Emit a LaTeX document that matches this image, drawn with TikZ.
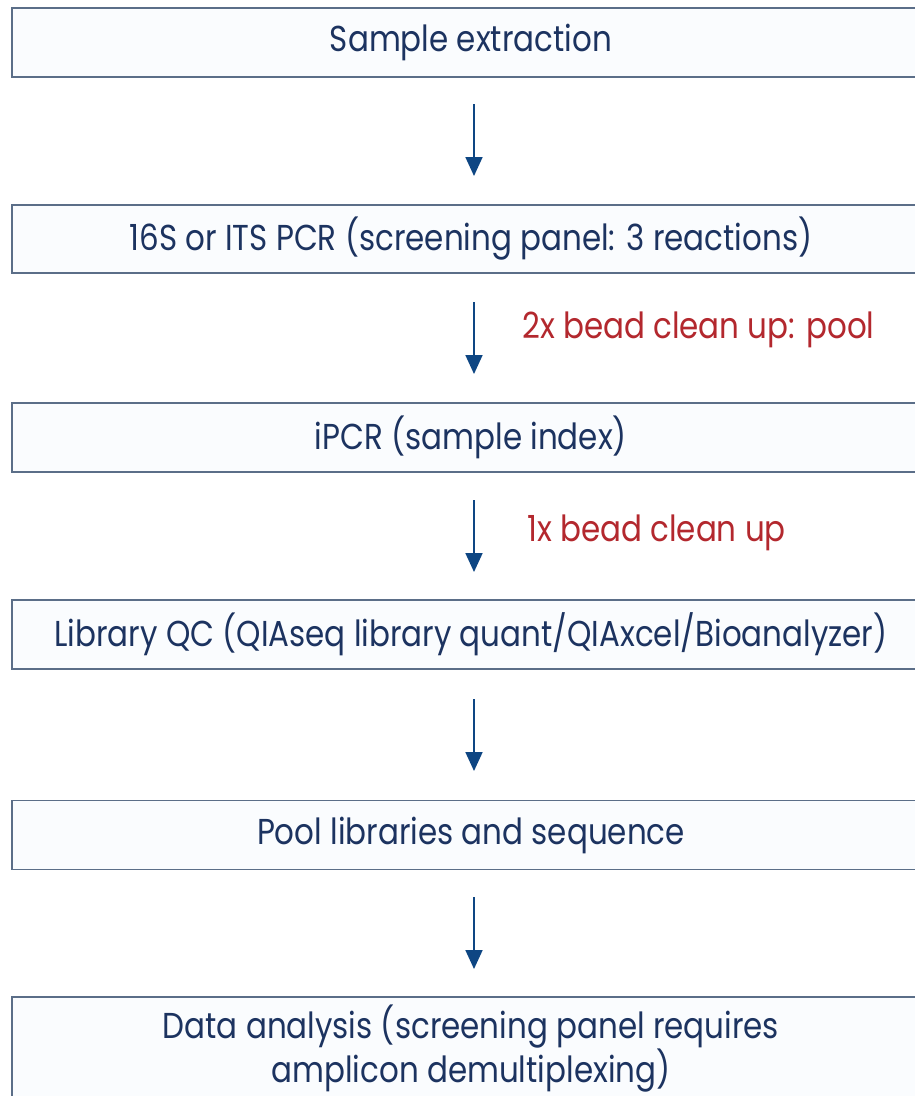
\documentclass[tikz,border=0pt]{standalone}
\usepackage{fontspec}
\setmainfont[FakeStretch=0.86]{Poppins}
\usetikzlibrary{arrows.meta}
\definecolor{boxline}{HTML}{5B6E88}
\definecolor{boxfill}{HTML}{FAFCFE}
\definecolor{txtblue}{HTML}{1C3360}
\definecolor{arrblue}{HTML}{0E4683}
\definecolor{lblred}{HTML}{B3282E}
\tikzset{
  stepbox/.style={draw=boxline, fill=boxfill, line width=1.6pt, rectangle,
    minimum width=918pt, text=txtblue, font=\fontsize{36}{37}\selectfont, inner sep=0pt, align=center},
  flow/.style={draw=arrblue, line width=1.8pt, -{Triangle[length=19pt,width=17pt]}},
  lbl/.style={text=lblred, font=\fontsize{36}{37}\selectfont, anchor=west, inner sep=0pt}
}
\begin{document}
\begin{tikzpicture}[x=1pt,y=-1pt]
\useasboundingbox (0,0) rectangle (915,1096);
\node[stepbox, minimum height=69pt] (b1) at (471,42.5) {Sample extraction};
\node[stepbox, minimum height=68pt] (b2) at (471,239) {16S or ITS PCR (screening panel: 3 reactions)};
\node[stepbox, minimum height=69pt] (b3) at (471,437.5) {iPCR (sample index)};
\node[stepbox, minimum height=69pt] (b4) at (471,634.5) {Library QC (QIAseq library quant/QIAxcel/Bioanalyzer)};
\node[stepbox, minimum height=69pt] (b5) at (471,835) {Pool libraries and sequence};
\node[stepbox, minimum height=103pt] (b6) at (471,1048.5) {Data analysis (screening panel requires\\ amplicon demultiplexing)};
\coordinate (a1s) at (474,104); \coordinate (a1e) at (474,176);
\coordinate (a2s) at (474,302); \coordinate (a2e) at (474,374);
\coordinate (a3s) at (474,500); \coordinate (a3e) at (474,572);
\coordinate (a4s) at (474,699); \coordinate (a4e) at (474,771);
\coordinate (a5s) at (474,897); \coordinate (a5e) at (474,969);
\draw[flow] (a1s) -- (a1e);
\draw[flow] (a2s) -- (a2e);
\draw[flow] (a3s) -- (a3e);
\draw[flow] (a4s) -- (a4e);
\draw[flow] (a5s) -- (a5e);
\node[lbl] (l2) at (522,330) {2x bead clean up: pool};
\node[lbl] (l3) at (527,533) {1x bead clean up};
\end{tikzpicture}
\end{document}
